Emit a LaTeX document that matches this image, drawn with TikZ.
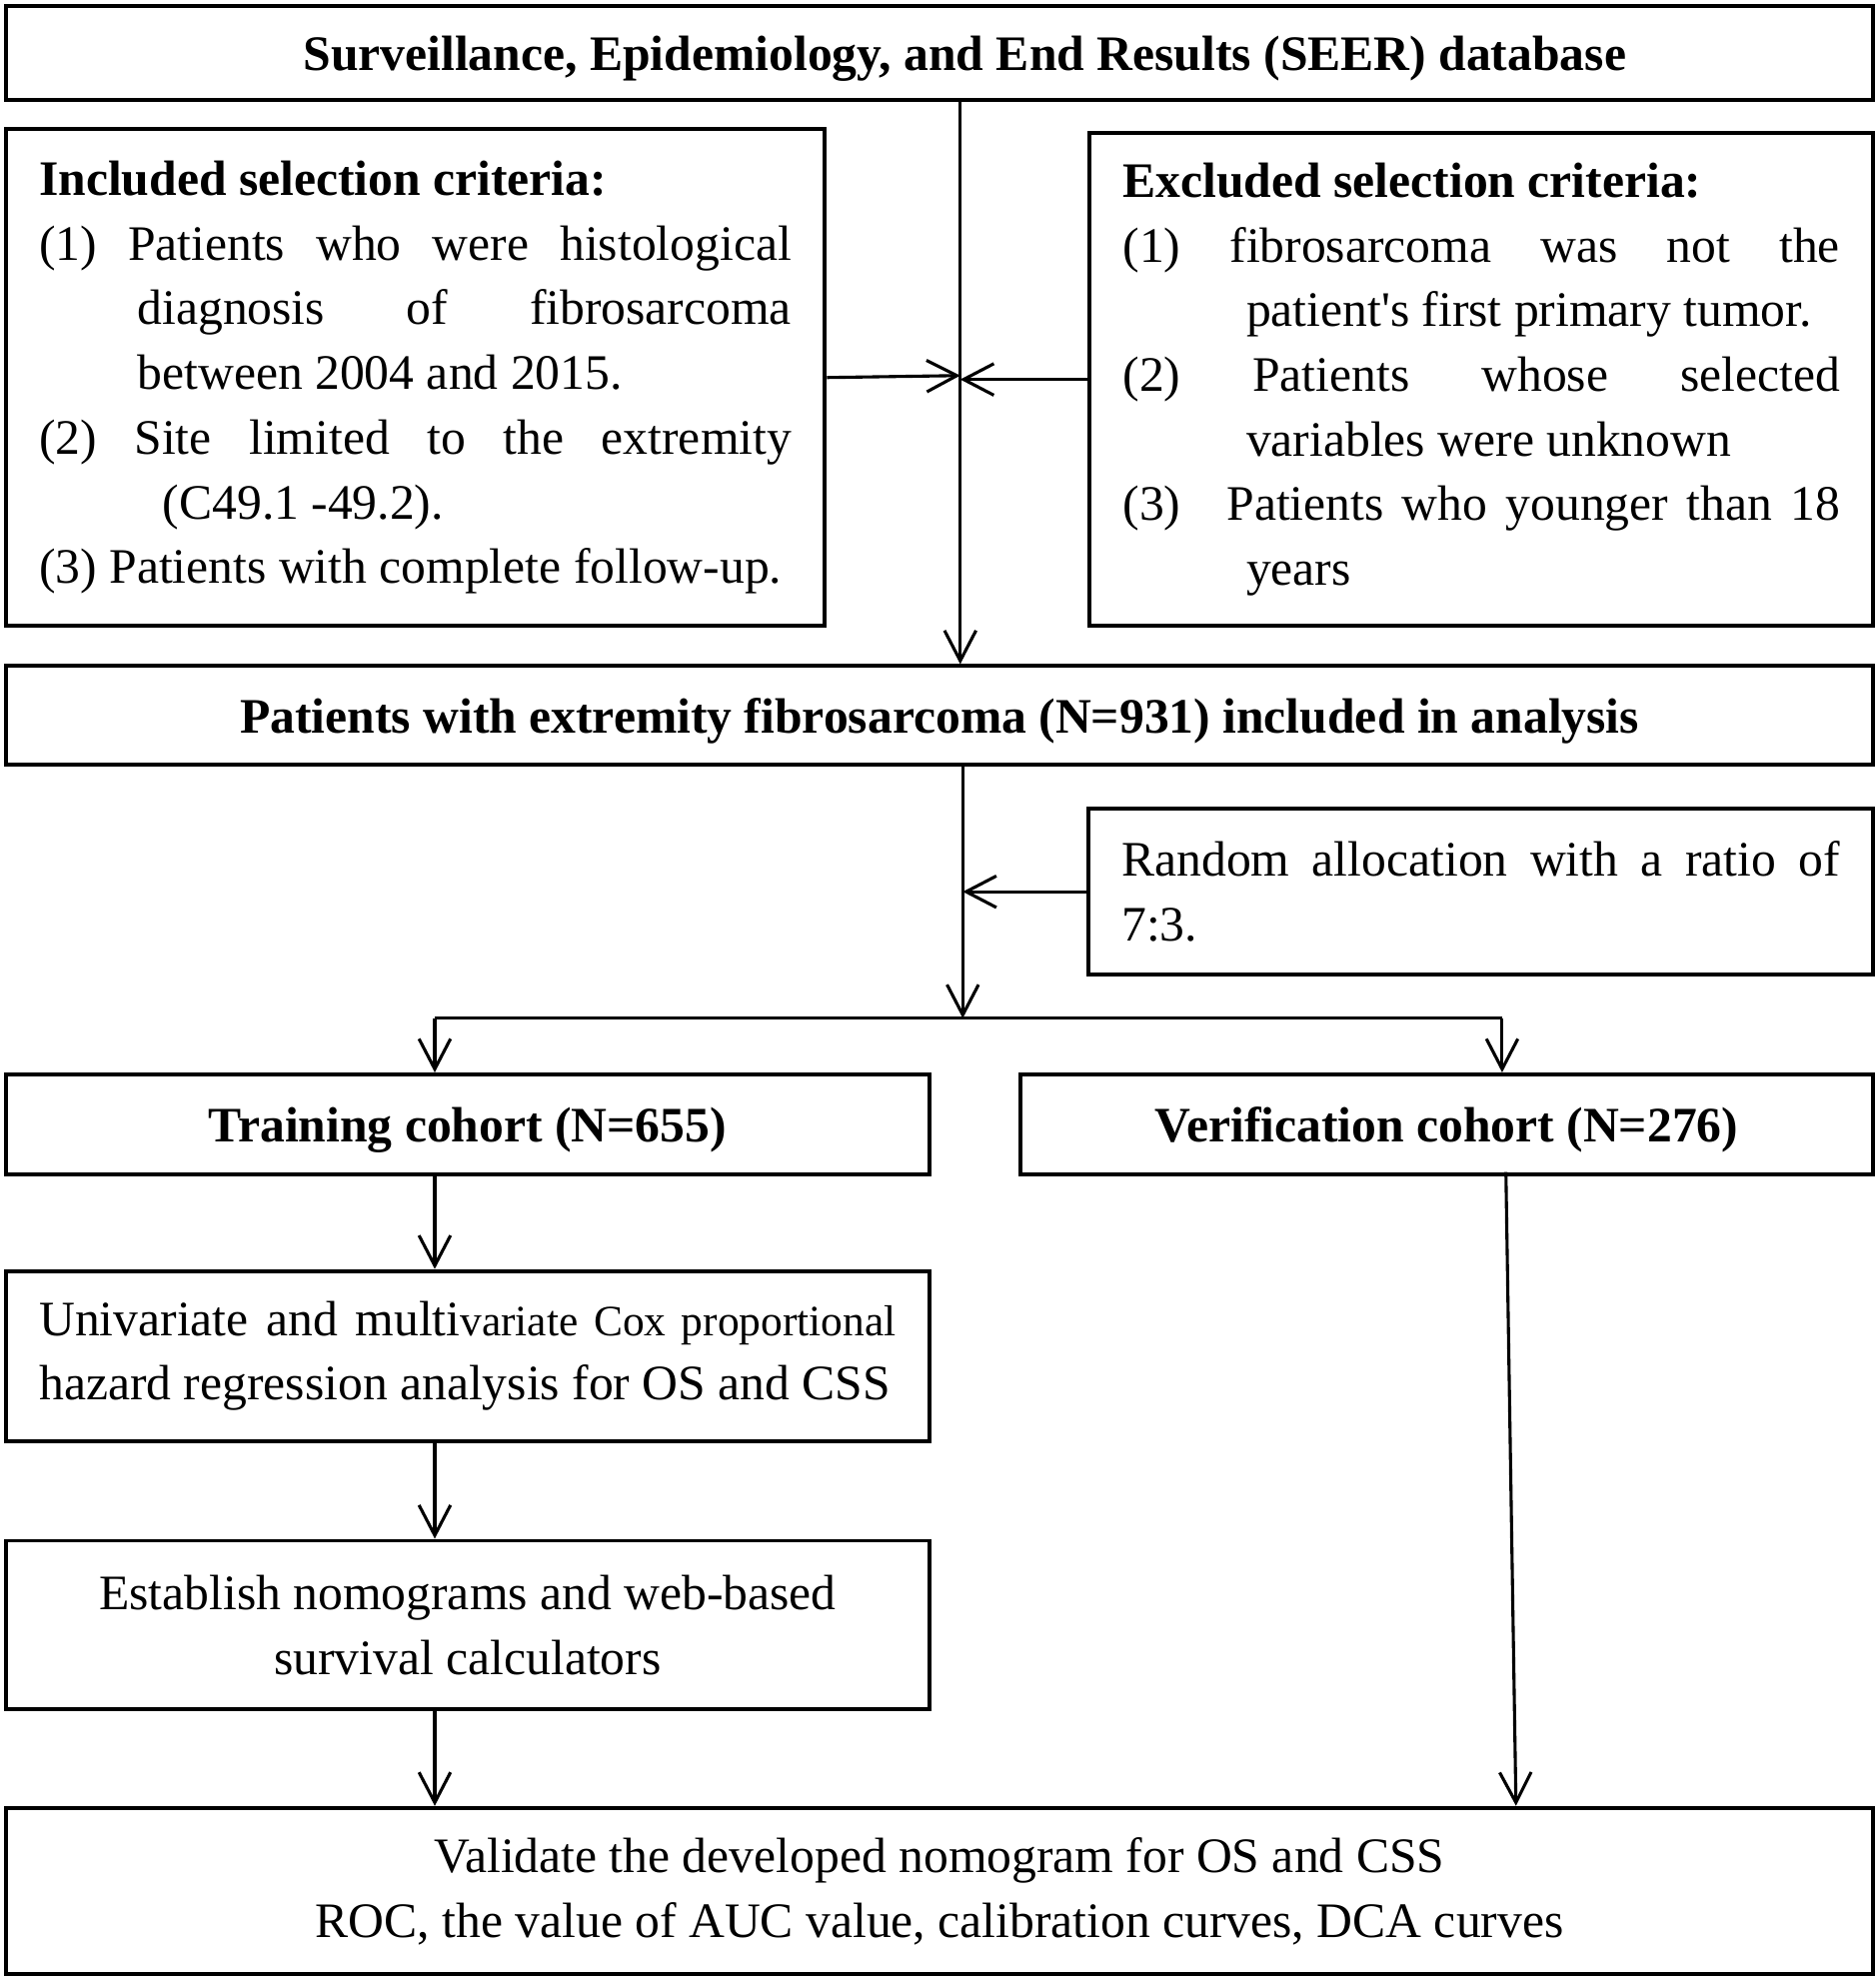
\documentclass[tikz,border=0pt]{standalone}
\usepackage{fontspec}
\setmainfont{Liberation Serif}
\usetikzlibrary{arrows.meta}

\newcommand{\critpar}[1]{\par\noindent\hangindent=#1\hangafter=1 }

\begin{document}
\begin{tikzpicture}[x=1mm,y=-1mm,
every node/.style={anchor=north west},
box/.style={draw,line width=0.9pt,inner sep=0mm,align=center,
  font=\fontsize{11.2}{14.6}\selectfont},
head/.style={box,font=\fontsize{11.2}{14.6}\selectfont\bfseries,text depth=0pt},
crit/.style={box,align=justify,inner xsep=2.65mm},
arr/.style={line width=0.7pt,-{Straight Barb[length=2.4mm,width=2.5mm]}}
]
\useasboundingbox (0,0) rectangle (148.8,156.8);

% boxes
\node[head,minimum width=148.2mm,minimum height=7.5mm] (seer) at (0.3,0.3)
  {\hspace*{4mm}Surveillance, Epidemiology, and End Results (SEER) database};

\node[crit,text width=59.7mm,minimum height=39.4mm] (incl) at (0.3,10.1)
  {\noindent\textbf{Included selection criteria:}
  \critpar{7.8mm}(1) Patients who were histological\linebreak
  diagnosis of fibrosarcoma\linebreak between 2004 and 2015.
  \critpar{7.8mm}(2) Site limited to the extremity\linebreak
  \hspace*{2mm}(C49.1 -49.2).
  \critpar{7.8mm}(3) Patients with complete follow-up.\par};

\node[crit,text width=56.9mm,minimum height=39.1mm] (excl) at (86.3,10.4)
  {\noindent\textbf{Excluded selection criteria:}
  \critpar{9.8mm}(1) fibrosarcoma was not the\linebreak
  patient\textquotesingle s first primary tumor.
  \critpar{9.8mm}(2) Patients whose selected\linebreak
  variables were unknown
  \critpar{9.8mm}(3)\hspace*{2.2mm} Patients who younger than 18\linebreak
  years\par};

\node[head,minimum width=148.2mm,minimum height=7.8mm] (pat) at (0.3,52.7)
  {Patients with extremity fibrosarcoma (N=931) included in analysis};

\node[crit,text width=57.0mm,minimum height=13.2mm] (rand) at (86.2,64.0)
  {\noindent Random allocation with a ratio of\linebreak 7:3.\par};

\node[head,minimum width=73.3mm,minimum height=7.9mm] (train) at (0.3,85.1)
  {Training cohort (N=655)};
\node[head,minimum width=67.7mm,minimum height=7.9mm] (verif) at (80.8,85.1)
  {Verification cohort (N=276)};

\node[crit,text width=68.0mm,minimum height=13.5mm] (univ) at (0.3,100.7)
  {\noindent Univariate and multi{\fontsize{9.8}{14.6}\selectfont variate Cox proportional}\linebreak
  hazard regression analysis for OS and CSS\par};

\node[box,minimum width=73.3mm,minimum height=13.4mm] (estab) at (0.3,122.1)
  {Establish nomograms and web-based\\ survival calculators};

\node[box,minimum width=148.2mm,minimum height=13.2mm] (valid) at (0.3,143.3)
  {Validate the developed nomogram for OS and CSS\\
   ROC, the value of AUC value, calibration curves, DCA curves};

% connectors
\coordinate (mid) at (76.2,29.8);
\coordinate (split) at (76.4,80.8);
\coordinate (tl) at (34.5,80.8);
\coordinate (tr) at (119.2,80.8);
\coordinate (vtop) at (119.5,93.0);
\coordinate (vbot) at (120.3,143.3);

\draw[line width=0.7pt] (seer.south -| mid) -- (mid);
\draw[arr] (mid) -- (pat.north -| mid);
\draw[arr] (incl.east) -- (mid);
\draw[arr] (excl.west) -- (excl.west -| mid);
\draw[arr] (pat.south -| split) -- (split);
\draw[arr] (rand.west) -- (rand.west -| split);
\draw[line width=0.7pt] (tl) -- (tr);
\draw[arr] (tl) -- (train.north -| tl);
\draw[arr] (tr) -- (verif.north -| tr);
\draw[arr] (train.south -| tl) -- (univ.north -| tl);
\draw[arr] (univ.south -| tl) -- (estab.north -| tl);
\draw[arr] (estab.south -| tl) -- (valid.north -| tl);
\draw[arr] (vtop) -- (vbot);
\end{tikzpicture}
\end{document}
